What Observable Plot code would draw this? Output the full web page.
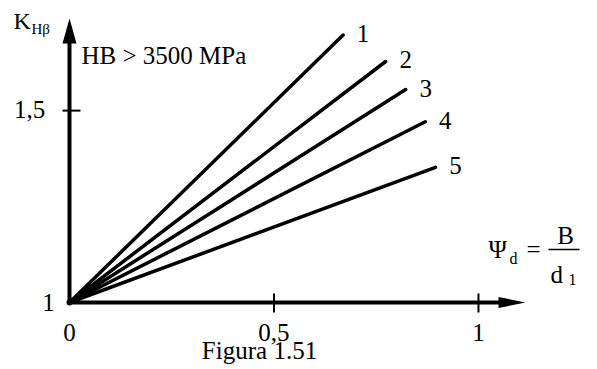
<!DOCTYPE html>
<html><head><meta charset="utf-8">
<script src="https://cdn.jsdelivr.net/npm/d3@7"></script>
<script src="https://cdn.jsdelivr.net/npm/@observablehq/plot@0.6"></script>
<style>html,body{margin:0;padding:0;background:#fff;} svg{display:block}</style>
</head><body><div id="chart"></div>
<script>
// Data
const seriesNames = ["1", "2", "3", "4", "5"];
const endPsi = [0.669, 0.773, 0.822, 0.870, 0.895];
const endK = [1.697, 1.628, 1.555, 1.471, 1.352];
const originPsi = 0;
const originK = 1;
const xTickValues = [0, 0.5, 1];
const xTickLabels = ["0", "0,5", "1"];
const xTickMarks = [0.5, 1];
const yTickMarks = [1.5];
const xMax = 1.115;
const yMax = 1.74;

const lines = seriesNames.flatMap((s, i) => [
  {s, x: originPsi, y: originK},
  {s, x: endPsi[i], y: endK[i]}
]);
const ends = seriesNames.map((s, i) => ({s, x: endPsi[i], y: endK[i]}));

// custom symbols
const arrowUp = {draw(c) { c.moveTo(0, 0); c.lineTo(7, 25); c.lineTo(-7, 25); c.closePath(); }};
const arrowRight = {draw(c) { c.moveTo(0, 0); c.lineTo(-27, -5.5); c.lineTo(-27, 5.5); c.closePath(); }};
const tickV = {draw(c) { c.moveTo(0, -9); c.lineTo(0, 10); }};
const tickH = {draw(c) { c.moveTo(-7, 0); c.lineTo(11, 0); }};
const fracBar = {draw(c) { c.moveTo(0, 0); c.lineTo(31, 0); }};

const FS = 25;
const chart = Plot.plot({
  width: 597,
  height: 369,
  marginLeft: 69,
  marginRight: 72,
  marginTop: 18,
  marginBottom: 67,
  x: {domain: [0, xMax], axis: null},
  y: {domain: [1, yMax], axis: null},
  style: {fontFamily: "'Liberation Serif', 'Times New Roman', serif", background: "white", color: "black"},
  marks: [
    // axes
    Plot.ruleX([originPsi], {x: d => d, y1: originK, y2: yMax - 0.04, stroke: "black", strokeWidth: 4}),
    Plot.ruleY([originK], {y: d => d, x1: originPsi, x2: xMax - 0.035, stroke: "black", strokeWidth: 4}),
    Plot.dot([originPsi], {x: d => d, y: yMax, symbol: arrowUp, fill: "black", stroke: "none"}),
    Plot.dot([originK], {x: xMax, y: d => d, symbol: arrowRight, fill: "black", stroke: "none"}),
    Plot.dot(xTickMarks, {x: d => d, y: originK, symbol: tickV, fill: "none", stroke: "black", strokeWidth: 2}),
    Plot.dot(yTickMarks, {x: originPsi, y: d => d, symbol: tickH, fill: "none", stroke: "black", strokeWidth: 2}),
    // tick labels
    Plot.text(xTickValues, {x: d => d, y: originK, text: (d, i) => xTickLabels[i], dy: 38, lineAnchor: "bottom", fontSize: FS}),
    Plot.text(["1"], {x: originPsi, y: originK, text: d => d, dx: -21, dy: 8, lineAnchor: "bottom", fontSize: FS}),
    Plot.text(["1,5"], {x: originPsi, y: 1.5, text: d => d, dx: -40, dy: 7, lineAnchor: "bottom", fontSize: FS}),
    // series lines
    Plot.line(lines, {x: "x", y: "y", z: "s", stroke: "black", strokeWidth: 3.5, strokeLinecap: "round"}),
    Plot.dot([originPsi], {x: d => d, y: originK, r: 3, fill: "black", stroke: "none"}),
    Plot.text(ends, {x: "x", y: "y", text: "s", dx: 20, dy: -1, fontSize: FS}),
    // y-axis title K_Hβ
    Plot.text(["K"], {frameAnchor: "top-left", text: d => d, dx: -56, dy: 10, textAnchor: "start", lineAnchor: "bottom", fontSize: 24}),
    Plot.text(["Hβ"], {frameAnchor: "top-left", text: d => d, dx: -38, dy: 15, textAnchor: "start", lineAnchor: "bottom", fontSize: 15}),
    Plot.text(["HB > 3500 MPa"], {frameAnchor: "top-left", text: d => d, dx: 12, dy: 45, textAnchor: "start", lineAnchor: "bottom", fontSize: FS}),
    // x-axis title Ψd = B / d1
    Plot.text(["Ψ"], {frameAnchor: "bottom-right", text: d => d, dx: -37, dy: -45, textAnchor: "start", lineAnchor: "bottom", fontSize: FS}),
    Plot.text(["d"], {frameAnchor: "bottom-right", text: d => d, dx: -16, dy: -39, textAnchor: "start", lineAnchor: "bottom", fontSize: 16}),
    Plot.text(["="], {frameAnchor: "bottom-right", text: d => d, dx: 1, dy: -45, textAnchor: "start", lineAnchor: "bottom", fontSize: FS}),
    Plot.dot([0], {frameAnchor: "bottom-right", symbol: fracBar, dx: 23, dy: -53, fill: "none", stroke: "black", strokeWidth: 1.5}),
    Plot.text(["B"], {frameAnchor: "bottom-right", text: d => d, dx: 40, dy: -59, textAnchor: "middle", lineAnchor: "bottom", fontSize: FS}),
    Plot.text(["d"], {frameAnchor: "bottom-right", text: d => d, dx: 25, dy: -20, textAnchor: "start", lineAnchor: "bottom", fontSize: FS}),
    Plot.text(["1"], {frameAnchor: "bottom-right", text: d => d, dx: 43, dy: -18, textAnchor: "start", lineAnchor: "bottom", fontSize: 16}),
    // caption
    Plot.text(["Figura 1.51"], {frameAnchor: "bottom", text: d => d, dx: -38, dy: 56, textAnchor: "middle", lineAnchor: "bottom", fontSize: FS})
  ]
});
document.getElementById("chart").appendChild(chart);
</script>
</body></html>
